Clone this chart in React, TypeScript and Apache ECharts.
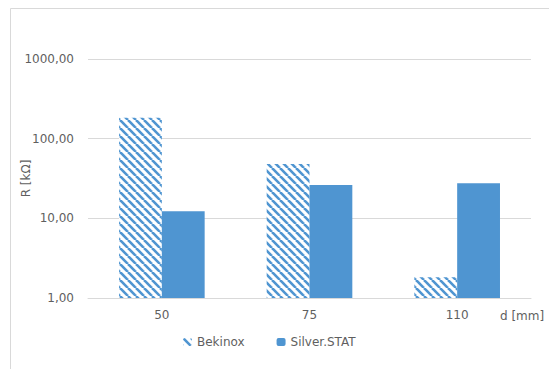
import React, { useEffect, useRef } from "react";
import * as echarts from "echarts";

const categories = ["50", "75", "110"];
const seriesNames = ["Bekinox", "Silver.STAT"];
const bekinox = [183, 48, 1.82];
const silverStat = [12.3, 26.2, 27.5];
const yAxisName = "R [kΩ]";
const xAxisName = "d [mm]";

const BLUE = "#4f95d1";
const TEXT = "#5f5f5f";
const GRID = "#d9d9d9";
const FONT = "DejaVu Sans";

export default function App() {
  const ref = useRef<HTMLDivElement>(null);
  useEffect(() => {
    const chart = echarts.init(ref.current!, null, { renderer: "svg" });
    const c = document.createElement("canvas");
    c.width = 8;
    c.height = 8;
    const ctx = c.getContext("2d")!;
    ctx.fillStyle = "#ffffff";
    ctx.fillRect(0, 0, 8, 8);
    ctx.strokeStyle = BLUE;
    ctx.lineWidth = 2.6;
    for (const o of [-8, 0, 8]) {
      ctx.beginPath();
      ctx.moveTo(o, 0);
      ctx.lineTo(o + 8, 8);
      ctx.stroke();
    }
    const hatch: any = { image: c.toDataURL(), repeat: "repeat", imageWidth: 8, imageHeight: 8 };

    chart.setOption({
      animation: false,
      backgroundColor: "#ffffff",
      textStyle: { fontFamily: FONT },
      grid: { left: 88, right: 18, top: 59, bottom: 71 },
      legend: {
        left: 178,
        top: 331,
        itemWidth: 9,
        itemHeight: 8,
        itemGap: 32,
        textStyle: { fontFamily: FONT, fontSize: 12, color: TEXT },
        data: seriesNames,
      },
      xAxis: {
        type: "category",
        data: categories,
        axisLine: { lineStyle: { color: GRID } },
        axisTick: { show: false },
        axisLabel: { margin: 11, fontFamily: FONT, fontSize: 12, color: TEXT },
      },
      yAxis: {
        type: "log",
        logBase: 10,
        min: 1,
        max: 1000,
        axisLine: { show: false },
        axisTick: { show: false },
        splitLine: { lineStyle: { color: GRID } },
        axisLabel: {
          margin: 14,
          fontFamily: FONT,
          fontSize: 12,
          color: TEXT,
          formatter: (v: number) => v.toFixed(2).replace(".", ","),
        },
      },
      series: [
        {
          name: seriesNames[0],
          type: "bar",
          data: bekinox,
          barGap: "0%",
          barCategoryGap: "42%",
          itemStyle: { color: hatch },
        },
        {
          name: seriesNames[1],
          type: "bar",
          data: silverStat,
          barGap: "0%",
          barCategoryGap: "42%",
          itemStyle: { color: BLUE },
        },
      ],
      graphic: [
        {
          type: "rect",
          shape: { x: 10.5, y: 8.5, width: 700, height: 500 },
          style: { fill: "none", stroke: GRID, lineWidth: 1 },
          silent: true,
        },
        {
          type: "text",
          x: 26,
          y: 178.5,
          rotation: Math.PI / 2,
          style: {
            text: yAxisName,
            fontFamily: FONT,
            fontSize: 12,
            fill: TEXT,
            verticalAlign: "middle",
            align: "center",
          },
        },
        {
          type: "text",
          x: 500,
          y: 316,
          style: {
            text: xAxisName,
            fontFamily: FONT,
            fontSize: 12,
            fill: TEXT,
            verticalAlign: "middle",
            align: "left",
          },
        },
      ],
    });
    return () => chart.dispose();
  }, []);
  return (
    <div
      ref={ref}
      style={{ position: "fixed", left: 0, top: 0, width: 549, height: 369 }}
    />
  );
}
